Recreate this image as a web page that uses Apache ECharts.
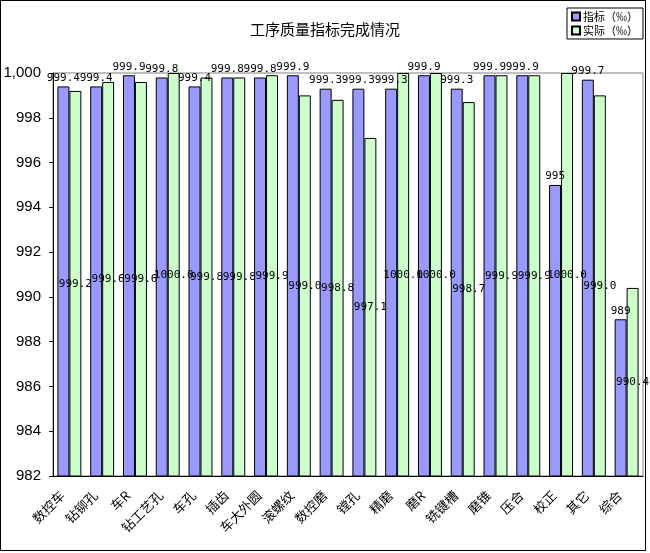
<!DOCTYPE html>
<html>
<head>
<meta charset="utf-8">
<script src="https://cdn.jsdelivr.net/npm/echarts@6/dist/echarts.min.js"></script>
<style>
  html, body { margin: 0; padding: 0; background: #fff; }
  #box { position: absolute; left: 0; top: 0; width: 646px; height: 551px; border: 1px solid #000; box-sizing: border-box; }
  #main { width: 650px; height: 553px; position: absolute; left: 0; top: 0; }
</style>
</head>
<body>
<div id="box"></div>
<div id="main"></div>
<script>
// 工序名称
var categories = ['数控车', '钻铆孔', '车R', '钻工艺孔', '车孔', '插齿', '车大外圆', '滚螺纹', '数控磨',
                  '镗孔', '精磨', '磨R', '铣键槽', '磨锥', '压合', '校正', '其它', '综合'];
// 指标（‰）
var targetValues = [999.4, 999.4, 999.9, 999.8, 999.4, 999.8, 999.8, 999.9, 999.3,
                    999.3, 999.3, 999.9, 999.3, 999.9, 999.9, 995, 999.7, 989];
// 实际（‰）
var actualValues = [999.2, 999.6, 999.6, 1000.0, 999.8, 999.8, 999.9, 999.0, 998.8,
                    997.1, 1000.0, 1000.0, 998.7, 999.9, 999.9, 1000.0, 999.0, 990.4];
// y轴刻度
var yMin = 982, yMax = 1000, yStep = 2;

var chart = echarts.init(document.getElementById('main'));

var option = {
    animation: false,
    textStyle: { fontFamily: 'Noto Sans CJK SC' },
    title: {
        text: '工序质量指标完成情况',
        left: 'center',
        top: 17,
        textStyle: { fontSize: 15, fontWeight: 'normal', color: '#000', fontFamily: 'Noto Sans CJK SC' }
    },
    legend: {
        orient: 'vertical',
        right: 7,
        top: 8,
        padding: [3, 5, 3, 4],
        itemGap: 3,
        itemWidth: 8,
        itemHeight: 8,
        borderColor: '#000',
        borderWidth: 1,
        icon: 'rect',
        textStyle: { fontSize: 11, color: '#000', padding: [0, 0, 0, -2] },
        data: ['指标（‰）', '实际（‰）']
    },
    grid: {
        left: 53,
        right: 7,
        top: 73,
        bottom: 77,
        show: true,
        borderColor: '#808080',
        borderWidth: 1
    },
    xAxis: {
        type: 'category',
        data: categories,
        axisLine: { lineStyle: { color: '#000', width: 1 } },
        axisTick: { inside: true, length: 4, lineStyle: { color: '#000' } },
        axisLabel: { interval: 0, rotate: 45, margin: 10, fontSize: 13, color: '#000', padding: [0, 10, 0, 0] },
        splitLine: { show: false }
    },
    yAxis: {
        type: 'value',
        min: yMin,
        max: yMax,
        interval: yStep,
        axisLine: { show: true, lineStyle: { color: '#000', width: 1 } },
        axisTick: { show: true, length: 4, lineStyle: { color: '#000' } },
        axisLabel: { fontSize: 15, color: '#000', margin: 12, fontFamily: 'Liberation Sans' },
        splitLine: { show: false }
    },
    series: [
        {
            name: '指标（‰）',
            type: 'bar',
            data: targetValues,
            barGap: '0%',
            barCategoryGap: '27%',
            itemStyle: { color: '#9999FF', borderColor: '#000', borderWidth: 1 },
            label: {
                show: true,
                position: 'top',
                distance: 3,
                fontSize: 11,
                color: '#000',
                fontFamily: 'DejaVu Sans Mono',
                formatter: function (p) { return String(p.value); }
            }
        },
        {
            name: '实际（‰）',
            type: 'bar',
            data: actualValues,
            itemStyle: { color: '#CCFFCC', borderColor: '#000', borderWidth: 1 },
            label: {
                show: true,
                position: 'inside',
                fontSize: 11,
                color: '#000',
                fontFamily: 'DejaVu Sans Mono',
                formatter: function (p) { return p.value.toFixed(1); }
            }
        }
    ]
};

chart.setOption(option);
</script>
</body>
</html>
